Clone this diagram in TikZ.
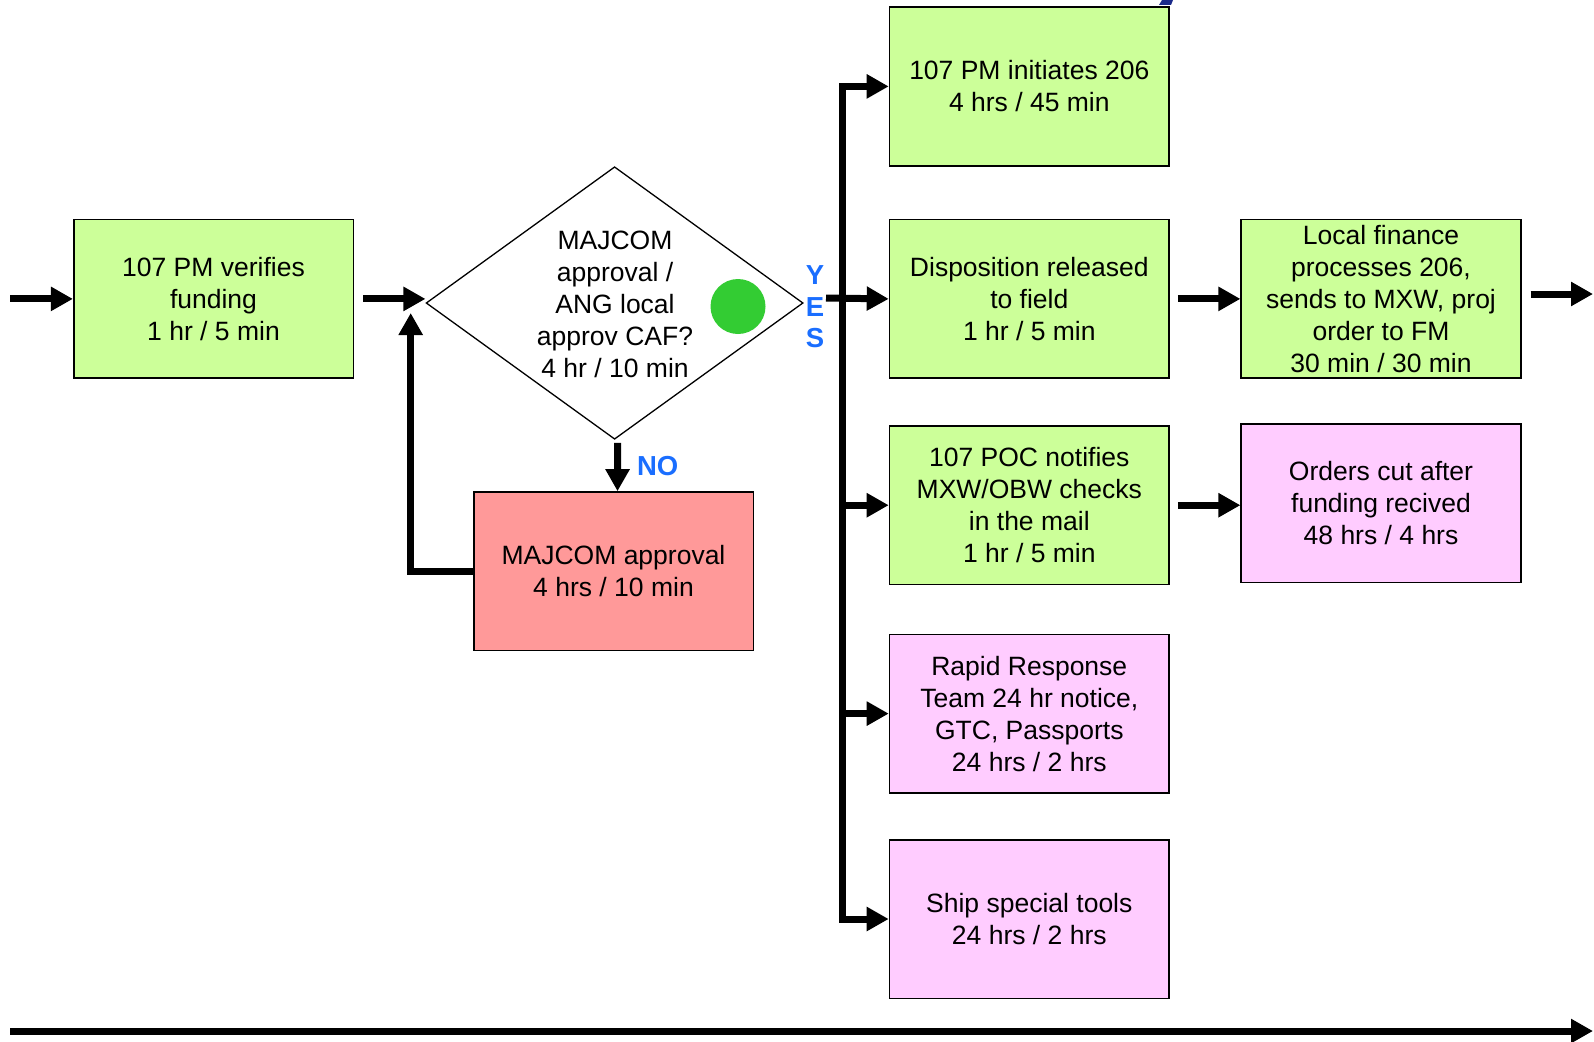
\documentclass[tikz,border=0pt]{standalone}
\usepackage{fontspec}
\setmainfont{Liberation Sans}
\usetikzlibrary{arrows.meta,shapes.geometric,calc}
\definecolor{boxgreen}{RGB}{204,255,153}
\definecolor{boxred}{RGB}{255,153,153}
\definecolor{boxpink}{RGB}{255,204,255}
\definecolor{dotgreen}{RGB}{51,204,51}
\definecolor{lblblue}{RGB}{26,110,255}
\definecolor{navyfrag}{RGB}{26,42,138}
\newcommand\dfont{\fontsize{26.5}{32}\selectfont}
\newcommand\lfont{\fontsize{27.5}{31.5}\selectfont\bfseries}
\tikzset{
  stepbox/.style={draw=black, line width=1.6pt, minimum width=279.6pt,
    minimum height=158.6pt, inner sep=0pt, align=center, font=\dfont},
  greenbox/.style={stepbox, fill=boxgreen},
  pinkbox/.style={stepbox, fill=boxpink},
  redbox/.style={stepbox, fill=boxred},
  arr/.style={line width=7pt, -{Triangle[length=22pt,width=23pt]}},
  lbl/.style={text=lblblue, font=\lfont, align=center, inner sep=0pt},
}
\begin{document}
\begin{tikzpicture}[x=1pt,y=-1pt]
\useasboundingbox (0,0) rectangle (1594,1041);

% corner of a shape running off the top edge
\fill[navyfrag] (1162,0) -- (1173,0) -- (1171,5) -- (1159,5) -- cycle;

% process steps
\node[greenbox] (b0) at (213.5,298.9) {107 PM verifies\\funding\\1 hr / 5 min};
\node[redbox]   (red) at (613.5,571.3) {MAJCOM approval\\4 hrs / 10 min};

\node[greenbox] (c1) at (1029.3,86.4)  {107 PM initiates 206\\4 hrs / 45 min};
\node[greenbox] (c2) at (1029.3,298.9) {Disposition released\\to field\\1 hr / 5 min};
\node[greenbox] (c3) at (1029.3,505.2) {107 POC notifies\\MXW/OBW checks\\in the mail\\1 hr / 5 min};
\node[pinkbox]  (c4) at (1029.3,713.6) {Rapid Response\\Team 24 hr notice,\\GTC, Passports\\24 hrs / 2 hrs};
\node[pinkbox]  (c5) at (1029.3,919.0) {Ship special tools\\24 hrs / 2 hrs};

\node[greenbox] (r1) at (1381,298.9) {Local finance\\processes 206,\\sends to MXW, proj\\order to FM\\30 min / 30 min};
\node[pinkbox]  (r2) at (1381,503.2) {Orders cut after\\funding recived\\48 hrs / 4 hrs};

% decision
\node[diamond, draw=black, line width=1.3pt, minimum width=377pt,
      minimum height=272.5pt, inner sep=0pt, fill=white] (dia) at (614.6,303) {};
\node[align=center, font=\dfont, inner sep=0pt] (diatext) at (615,304)
  {MAJCOM\\approval /\\ANG local\\approv CAF?\\4 hr / 10 min};
\node[circle, fill=dotgreen, minimum size=55pt, inner sep=0pt] (dot) at (738,306.5) {};

% labels
\node[lbl] (yes) at (815,307) {Y\\E\\S};
\node[lbl] (no) at (657.7,465.6) {NO};

% connector end points
\coordinate (in) at (10,298.9);
\coordinate (fb) at (410.7,313);
\coordinate (ys) at (826,298);
\coordinate (bt) at (842,86.4);
\coordinate (bb) at (842,919.0);
\coordinate (out) at (1593,294);
\coordinate (tl) at (10,1031);
\coordinate (tr) at (1593,1031);

% connectors
\draw[arr] (in) -- (b0.west);
\draw[arr] ([xshift=9pt]b0.east) -- (b0.east -| dia.west);
\draw[arr] (red.west) -| (fb);
\draw[arr] ([xshift=3pt,yshift=-3pt]dia.south) -- ([xshift=4pt]red.north);

\draw[arr] (ys) -- (c2.west);
\draw[arr] (bb) -- (bt) -- (c1.west);
\draw[arr] (bt) -- (bb) -- (c5.west);
\draw[arr] (bt |- c3.west) -- (c3.west);
\draw[arr] (bt |- c4.west) -- (c4.west);

\draw[arr] ([xshift=8pt]c2.east) -- (r1.west);
\draw[arr] ([xshift=8pt]c3.east) -- (c3.east -| r2.west);
\draw[arr] ([xshift=9pt]r1.east |- out) -- (out);

\draw[arr] (tl) -- (tr);
\end{tikzpicture}
\end{document}
